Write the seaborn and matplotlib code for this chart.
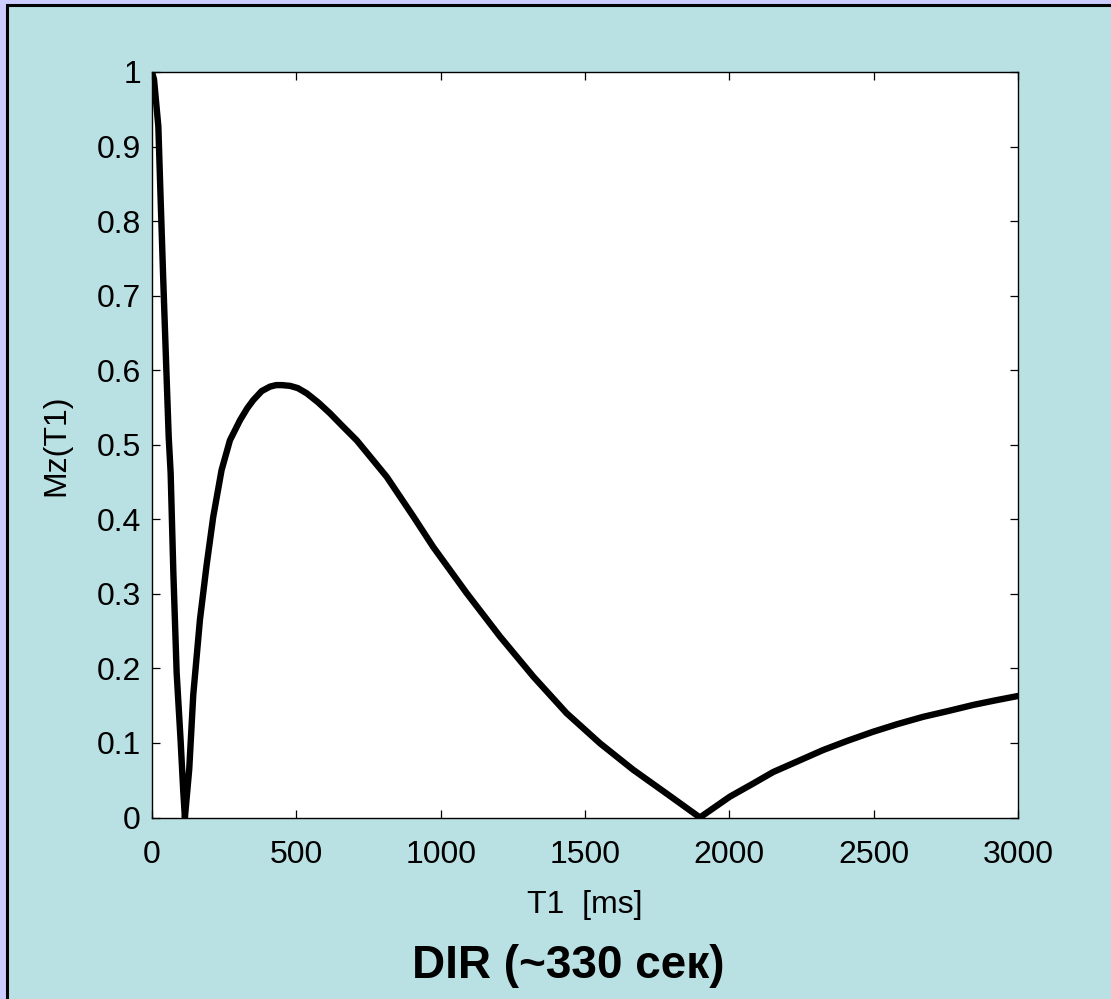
import matplotlib
matplotlib.use("Agg")
import matplotlib.pyplot as plt
from matplotlib.patches import Rectangle
import seaborn as sns
import pandas as pd

# ---- data ----
T1_ms = [0, 7, 22, 30, 39, 48.5, 57.8, 64.6, 74, 85.4, 99, 108, 114,
         129, 143, 166, 189, 212, 241, 270, 305, 330, 351, 380, 409, 430,
         450, 478, 505, 536, 575, 617, 660, 709, 760, 813, 905, 974, 1090,
         1205, 1321, 1436, 1552, 1667, 1783, 1898, 1950, 2002, 2080, 2152,
         2240, 2325, 2410, 2498, 2580, 2671, 2760, 2845, 2920, 3000]
Mz = [1.0, 0.99, 0.927, 0.828, 0.721, 0.614, 0.511, 0.462, 0.328, 0.194,
      0.104, 0.037, 0.0,
      0.065, 0.165, 0.265, 0.338, 0.403, 0.466, 0.506, 0.533, 0.549, 0.560,
      0.572, 0.578, 0.580, 0.580, 0.579, 0.576, 0.569, 0.557, 0.542, 0.525,
      0.506, 0.482, 0.457, 0.404, 0.363, 0.301, 0.243, 0.189, 0.140, 0.0995,
      0.064, 0.032, 0.0, 0.014, 0.028, 0.045, 0.061, 0.076, 0.0905, 0.103,
      0.115, 0.125, 0.135, 0.143, 0.151, 0.157, 0.163]

x_ticks = [0, 500, 1000, 1500, 2000, 2500, 3000]
x_tick_labels = ["0", "500", "1000", "1500", "2000", "2500", "3000"]
y_ticks = [0, 0.1, 0.2, 0.3, 0.4, 0.5, 0.6, 0.7, 0.8, 0.9, 1.0]
y_tick_labels = ["0", "0.1", "0.2", "0.3", "0.4", "0.5", "0.6", "0.7",
                 "0.8", "0.9", "1"]
x_label = "T1  [ms]"
y_label = "Mz(T1)"
caption = "DIR (~330 сек)"

df = pd.DataFrame({"T1": T1_ms, "Mz": Mz})

sns.set_theme(style="ticks")
plt.rcParams["font.family"] = ["Liberation Sans", "DejaVu Sans"]

W, H = 1111, 999
fig = plt.figure(figsize=(W / 100, H / 100), dpi=100)
fig.patch.set_facecolor("#ccccff")

# teal panel with black border
panel = Rectangle((7 / W, -0.05), 1.2, (H - 5) / H + 0.05,
                  transform=fig.transFigure, facecolor="#b9e0e3",
                  edgecolor="black", linewidth=2.2, zorder=-10)
fig.patches.append(panel)

ax = fig.add_axes([152 / W, (H - 817.5) / H, (1018 - 152) / W, (817.5 - 72) / H])
ax.set_zorder(5)
ax.set_facecolor("white")

sns.lineplot(data=df, x="T1", y="Mz", ax=ax, color="black", linewidth=4.6,
             sort=False, estimator=None)
for ln in ax.get_lines():
    ln.set_solid_joinstyle("round")
    ln.set_solid_capstyle("round")

ax.set_xlim(0, 3000)
ax.set_ylim(0, 1)
ax.set_xticks(x_ticks)
ax.set_xticklabels(x_tick_labels)
ax.set_yticks(y_ticks)
ax.set_yticklabels(y_tick_labels)
ax.tick_params(direction="in", length=6, width=0.9, top=True, right=True,
               labelsize=23, colors="black")
ax.tick_params(axis="y", pad=8)
ax.tick_params(axis="x", pad=16)
for s in ax.spines.values():
    s.set_visible(True)
    s.set_linewidth(1.0)
    s.set_color("black")

ax.set_xlabel(x_label, fontsize=23, color="black")
ax.set_ylabel(y_label, fontsize=23, color="black")
ax.xaxis.set_label_coords(0.5, -0.097)
ax.yaxis.set_label_coords(-0.093, 0.5)

fig.text(568 / W, 1 - 966 / H, caption, ha="center", va="center",
         fontsize=33, fontweight="bold", color="black")

fig.savefig("out.png", dpi=100, facecolor=fig.get_facecolor())
